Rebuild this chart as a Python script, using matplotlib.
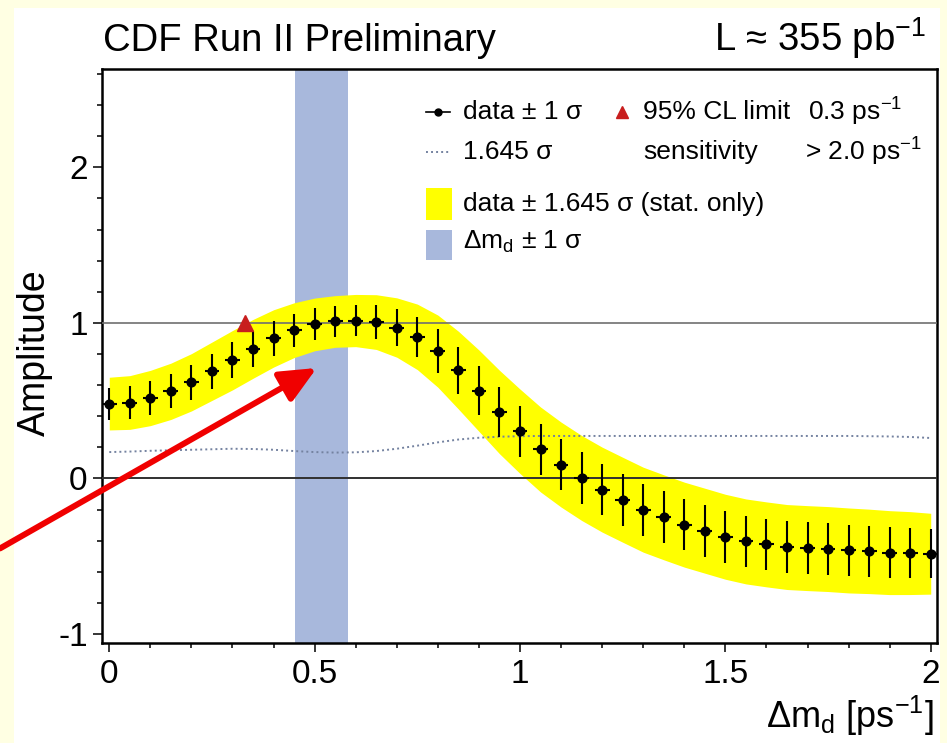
import numpy as np
import matplotlib
matplotlib.use('Agg')
import matplotlib.pyplot as plt
from matplotlib.patches import Rectangle
from matplotlib.ticker import MultipleLocator, FixedLocator

plt.rcParams['font.family'] = ['Liberation Sans', 'DejaVu Sans']
plt.rcParams['mathtext.fontset'] = 'custom'
plt.rcParams['mathtext.rm'] = 'Liberation Sans'
plt.rcParams['mathtext.it'] = 'Liberation Sans:italic'
plt.rcParams['mathtext.bf'] = 'Liberation Sans:bold'

# amplitude scan points (delta m_d in ps^-1)
dm = [0.00, 0.05, 0.10, 0.15, 0.20, 0.25, 0.30, 0.35, 0.40, 0.45,
      0.50, 0.55, 0.60, 0.65, 0.70, 0.75, 0.80, 0.85, 0.90, 0.95,
      1.00, 1.05, 1.10, 1.15, 1.20, 1.25, 1.30, 1.35, 1.40, 1.45,
      1.50, 1.55, 1.60, 1.65, 1.70, 1.75, 1.80, 1.85, 1.90, 1.95, 2.00]
amplitude = [0.481, 0.488, 0.517, 0.560, 0.618, 0.689, 0.760, 0.833, 0.900, 0.953,
             0.990, 1.009, 1.015, 1.005, 0.970, 0.910, 0.818, 0.696, 0.564, 0.427,
             0.303, 0.186, 0.089, 0.003, -0.072, -0.137, -0.201, -0.250, -0.297, -0.336,
             -0.375, -0.405, -0.424, -0.441, -0.448, -0.454, -0.463, -0.469, -0.477, -0.480, -0.484]
sigma = [0.103, 0.105, 0.108, 0.110, 0.112, 0.114, 0.116, 0.115, 0.112, 0.107,
         0.103, 0.101, 0.102, 0.107, 0.116, 0.128, 0.141, 0.152, 0.159, 0.163,
         0.165, 0.166, 0.166, 0.166, 0.166, 0.166, 0.166, 0.166, 0.166, 0.166,
         0.166, 0.166, 0.166, 0.166, 0.166, 0.166, 0.166, 0.165, 0.164, 0.162, 0.158]

dmd_band = (0.452, 0.580)      # world average delta m_d +- 1 sigma
cl_limit = (0.33, 1.0)         # where data + 1.645 sigma crosses 1
arrow_tip = (0.505, 0.71)
arrow_tail = (-0.266, -0.45)

x_ticks = [0, 0.5, 1, 1.5, 2]
x_ticklabels = ['0', '0.5', '1', '1.5', '2']
y_ticks = [-1, 0, 1, 2]
y_ticklabels = ['-1', '0', '1', '2']

amp = np.array(amplitude)
sig = np.array(sigma)
band_lo = amp - 1.645 * sig
band_hi = amp + 1.645 * sig

W, H = 947, 743
fig = plt.figure(figsize=(W / 100, H / 100), dpi=100)
fig.patch.set_facecolor('#FFFFE3')
fig.add_artist(Rectangle((14 / W, 0), (940 - 14) / W, (H - 8) / H,
                         transform=fig.transFigure, facecolor='white',
                         edgecolor='none', zorder=-1))

ax = fig.add_axes([102.3 / W, (H - 642.7) / H, 835 / W, 573.4 / H])
ax.set_facecolor('white')

sens_color = '#7482A0'
ax.axvspan(dmd_band[0], dmd_band[1], color='#A8B8DC', lw=0, zorder=1)
ax.fill_between(dm, band_lo, band_hi, color='#FFFF00', lw=0, zorder=2)
ax.axhline(1, color='#707070', lw=1.2, zorder=3)
ax.axhline(0, color='#303030', lw=1.4, zorder=3)
ax.plot(dm, 1.645 * sig, color=sens_color, lw=1.4, ls=(0, (1, 1.6)), zorder=3)
ax.errorbar(dm, amp, yerr=sig, xerr=0.018, fmt='o', color='black', ms=6.3,
            elinewidth=1.5, capsize=0, zorder=4)
ax.plot([cl_limit[0]], [cl_limit[1]], marker='^', color='#C81E1E', ms=11, zorder=5)

ax.annotate('', xy=arrow_tip, xytext=arrow_tail,
            arrowprops=dict(arrowstyle='-|>,head_length=1.1,head_width=0.5',
                            color='#F00000', lw=4.3, shrinkA=0, shrinkB=0,
                            mutation_scale=20),
            annotation_clip=False, zorder=6)

ax.set_xlim(-0.017, 2.016)
ax.set_ylim(-1.056, 2.63)
ax.xaxis.set_major_locator(FixedLocator(x_ticks))
ax.set_xticklabels(x_ticklabels)
ax.yaxis.set_major_locator(FixedLocator(y_ticks))
ax.set_yticklabels(y_ticklabels)
ax.xaxis.set_minor_locator(MultipleLocator(0.1))
ax.yaxis.set_minor_locator(MultipleLocator(0.2))
ax.tick_params(which='both', direction='out', top=False, right=False,
               width=1.1, labelsize=24, colors='black')
ax.tick_params(which='major', length=6.5)
ax.tick_params(which='minor', length=3.6)
ax.tick_params(axis='x', pad=5)
ax.tick_params(axis='y', pad=4)
for s in ax.spines.values():
    s.set_linewidth(1.8)

# legend block, drawn by hand in axes fractions
tr = ax.transAxes
ly = [0.9255, 0.8563, 0.765, 0.6997]
ax.plot([0.388, 0.416], [ly[0], ly[0]], transform=tr, color='black', lw=1.2)
ax.plot([0.402], [ly[0]], 'o', transform=tr, color='black', ms=5)
ax.plot([0.388, 0.416], [ly[1], ly[1]], transform=tr, color=sens_color, lw=1.4,
        ls=(0, (1, 1.6)))
ax.plot([0.6224], [ly[0]], '^', transform=tr, color='#C81E1E', ms=9)
ax.add_patch(Rectangle((0.388, 0.7373), 0.031, 0.055, transform=tr,
                       facecolor='#FFFF00', edgecolor='none'))
ax.add_patch(Rectangle((0.388, 0.6674), 0.031, 0.0518, transform=tr,
                       facecolor='#A8B8DC', edgecolor='none'))

leg_fs = 19
ax.text(0.432, ly[0], 'data ± 1 σ', transform=tr, va='center', fontsize=leg_fs)
ax.text(0.6476, ly[0], '95% CL limit', transform=tr, va='center', fontsize=leg_fs)
ax.text(0.845, ly[0], r'0.3 ps$^{-1}$', transform=tr, va='center', fontsize=leg_fs)
ax.text(0.432, ly[1], '1.645 σ', transform=tr, va='center', fontsize=leg_fs)
ax.text(0.6476, ly[1], 'sensitivity', transform=tr, va='center', fontsize=leg_fs)
ax.text(0.842, ly[1], r'> 2.0 ps$^{-1}$', transform=tr, va='center', fontsize=leg_fs)
ax.text(0.432, ly[2], 'data ± 1.645 σ (stat. only)', transform=tr, va='center',
        fontsize=leg_fs)
ax.text(0.432, ly[3], r'$\Delta$m$_{\rm d}$ ± 1 σ', transform=tr, va='center',
        fontsize=leg_fs)

fig.text(103 / W, 1 - 51 / H, 'CDF Run II Preliminary', fontsize=27.5,
         ha='left', va='baseline')
fig.text(926 / W, 1 - 51 / H, r'L ≈ 355 pb$^{-1}$', fontsize=27.5,
         ha='right', va='baseline')
fig.text(35 / W, 1 - 353 / H, 'Amplitude', fontsize=27, rotation=90,
         ha='center', va='center')
fig.text(934 / W, 1 - 728 / H, r'$\Delta$m$_{\rm d}$ [ps$^{-1}$]', fontsize=26,
         ha='right', va='baseline')

fig.savefig('out.png', dpi=100)
